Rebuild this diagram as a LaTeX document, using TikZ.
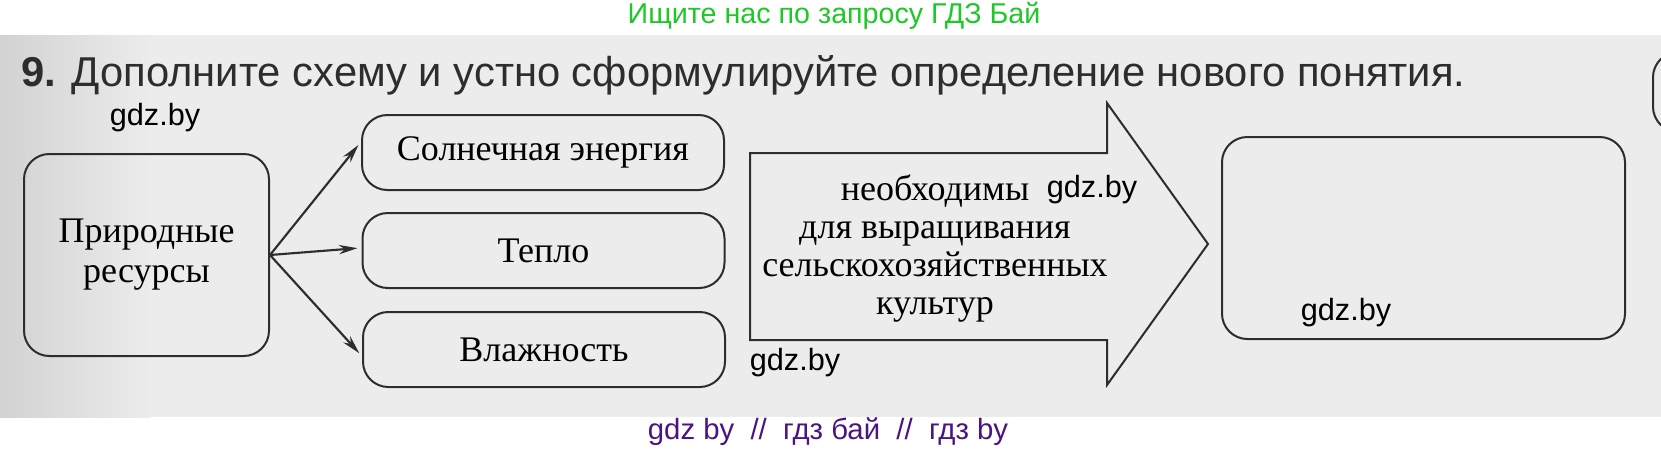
\documentclass[tikz,border=0pt]{standalone}
\usepackage{fontspec}
\setmainfont{Liberation Serif}
\newfontfamily\headfont{Liberation Sans}
\usetikzlibrary{arrows.meta}

\definecolor{inkgray}{RGB}{45,45,45}
\definecolor{scangray}{RGB}{236,236,236}
\definecolor{scandark}{RGB}{210,210,210}
\definecolor{gdzgreen}{RGB}{30,200,40}
\definecolor{gdzpurple}{RGB}{75,20,130}

\tikzset{every picture/.style={line width=0.75pt}}
\tikzset{
  rbox/.style={draw=inkgray, line width=1.5pt, rounded corners=19pt, inner sep=0pt,
    align=center, font=\fontsize{27}{30}\selectfont},
  wmark/.style={inner sep=0pt, font=\headfont\fontsize{23}{23}\selectfont},
  flow/.style={draw=inkgray, line width=1.6pt, -{Stealth[length=14pt,width=7pt]}, shorten >=3pt}
}

\begin{document}
\begin{tikzpicture}[x=0.75pt,y=0.75pt,yscale=-1,xscale=1]
\useasboundingbox (0,0) rectangle (1661,451);

%Scanned page
\fill [scangray] (0,35) rectangle (1661,417);
\fill [left color=scandark, right color=scangray] (0,35) rectangle (150,417);

% Text Node
\node [anchor=base west, inner sep=0pt, font=\headfont\fontsize{31.3}{31.3}\selectfont, text=inkgray] (task) at (21,86)
  {\textbf{9.} Дополните схему и устно сформулируйте определение нового понятия.};

%Rounded Rect
\node [rbox, minimum width=183.75pt, minimum height=151.5pt] (res) at (146.5,255) {Природные\\ресурсы};
%Rounded Rect
\node [rbox, minimum width=271.5pt, minimum height=56.25pt] (sun) at (543,152.5) {Солнечная энергия};
%Rounded Rect
\node [rbox, minimum width=271.5pt, minimum height=56.25pt] (heat) at (543.5,250.5) {Тепло};
%Rounded Rect
\node [rbox, minimum width=271.5pt, minimum height=56.25pt] (hum) at (544,349.5) {Влажность};
%Rounded Rect
\node [rbox, minimum width=302.25pt, minimum height=151.5pt] (goal) at (1423.5,238) {};
%Rounded Rect
\node [rbox, minimum width=60pt, minimum height=60pt] (edge) at (1693,92) {};

%Straight Lines
\draw [flow] (res.east) -- ([yshift=-8pt]sun.west);
%Straight Lines
\draw [flow] (res.east) -- ([yshift=-2pt]heat.west);
%Straight Lines
\draw [flow] (res.east) -- ([yshift=5pt]hum.west);

%Shape: Right Arrow
\draw [draw=inkgray, line width=1.5pt, line join=miter]
  (750,153) -- (1107,153) -- (1107,103) -- (1208,244) -- (1107,385) -- (1107,340) -- (750,340) -- cycle;

% Text Node
\node [align=center, inner sep=0pt, font=\fontsize{27}{28.5}\selectfont] (need) at (935,248)
  {необходимы\\для выращивания\\сельскохозяйственных\\культур};

% Text Node
\node [wmark] (wm1) at (155,118) {gdz.by};
% Text Node
\node [wmark] (wm2) at (1092,190) {gdz.by};
% Text Node
\node [wmark] (wm3) at (795,363) {gdz.by};
% Text Node
\node [wmark] (wm4) at (1346,313) {gdz.by};
% Text Node
\node [wmark, text=gdzgreen, font=\headfont\fontsize{21.5}{21.5}\selectfont] (top) at (834,16) {Ищите нас по запросу ГДЗ Бай};
% Text Node
\node [wmark, text=gdzpurple, font=\headfont\fontsize{22}{22}\selectfont] (foot) at (828,432) {gdz by~~//~~гдз бай~~//~~гдз by};

\end{tikzpicture}
\end{document}
